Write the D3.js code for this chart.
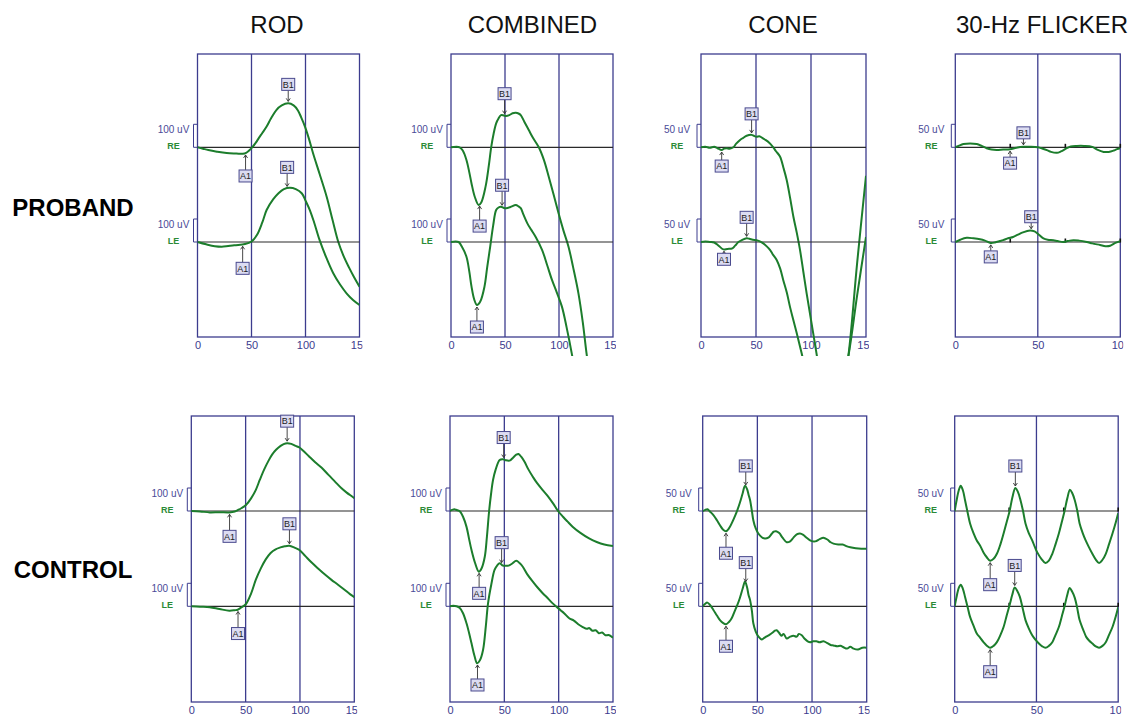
<!DOCTYPE html>
<html>
<head>
<meta charset="utf-8">
<script src="https://cdn.jsdelivr.net/npm/d3@7"></script>
<style>
  body { margin: 0; background: #fff; }
  svg { display: block; font-family: "Liberation Sans", Arial, sans-serif; }
</style>
</head>
<body>
<svg id="chart" width="1137" height="716"></svg>
<script>
// ---- ERG protocols and subjects ----
const protocols = ["ROD", "COMBINED", "CONE", "30-Hz FLICKER"];
const subjects = ["PROBAND", "CONTROL"];
const sweepMs = [150, 150, 150, 100];
const calibrationUV = [100, 100, 50, 50];
const xTickValues = [[0, 50, 100, 150], [0, 50, 100, 150], [0, 50, 100, 150], [0, 50, 100]];
const eyes = ["RE", "LE"];

// ---- Waveforms: [time ms, amplitude uV] ----
const probandRodRE = [[0,0],[5,-6],[10,-12],[18,-19],[27,-25],[36,-27],[42,-28],[45,-24],[48,-13],[51,2],[54,20],[57,42],[60,62],[64,90],[68,125],[73,162],[78,182],[84,191],[89,182],[93,160],[96,130],[99.5,90],[103,40],[107,-26],[113,-115],[119.6,-215],[125,-315],[130.4,-412],[135,-470],[140,-520],[145,-565],[150,-606]];
const probandRodLE = [[0,0],[8,-10],[16,-18],[24,-20],[34,-14],[44,-9],[50,2],[55,30],[60,85],[64,139],[70,185],[75,212],[80,230],[85.6,236],[91,230],[96.5,212],[100,180],[104,139],[108,85],[113,9],[119,-65],[125.7,-136],[132,-185],[138,-223],[144,-252],[150,-274]];
const probandCombRE = [[0,0],[8,0],[11,-15],[14.3,-55],[17,-110],[19,-157],[22,-215],[25.6,-251],[28,-240],[32,-171],[35,-80],[37.2,0],[39.5,60],[41.8,104],[44,125],[46.3,140],[49,138],[51,136],[54,140],[57,148],[60,150],[62.5,147],[64.6,140],[68,110],[72,75],[76,40],[81.3,0],[86,-55],[90.5,-128],[95,-205],[99.6,-287],[104,-360],[108.8,-432],[113,-520],[118,-635],[122,-760],[125.5,-896],[130,-1050]];
const probandCombLE = [[0,0],[7,0],[10,-20],[14.3,-64],[17,-130],[19,-194],[21.5,-250],[24,-274],[27,-260],[31,-194],[33.5,-110],[36.3,-20],[39,70],[41.8,139],[44,150],[46.3,153],[49,148],[51,147],[55,152],[60,161],[62.5,155],[64.6,147],[67,120],[70.7,81],[74,55],[78.3,23],[84.4,-35],[89,-100],[93.5,-165],[98,-220],[102.7,-281],[107,-370],[111.8,-484],[116,-600]];
const probandConeRE = [[0,0],[4,1],[8,-1],[12,1],[15,-2],[18.8,-6],[21,-3],[23.3,-2],[26,-3],[29.4,0],[32,8],[35.5,16],[38,20],[41.5,25],[46,27],[48,25],[50.5,23],[53,24],[56,20],[58,17],[62,10],[65.7,0],[68,-8],[71.8,-20],[75,-45],[77.9,-71],[81,-110],[84,-151],[87,-185],[90,-223],[93,-270],[96,-317],[100,-375],[105,-448],[110,-520],[116,-570],[122,-590],[128,-540],[134,-453],[142,-250],[150,-62]];
const probandConeLE = [[0,0],[4,1],[8,0],[12,-1],[16,-8],[20.3,-16],[24,-15],[28.5,-14],[31,-8],[34,0],[37,4],[41.5,8],[44,7],[47,5],[50.5,4],[53,2],[56.6,-3],[60,-10],[62.7,-17],[65,-26],[68.8,-39],[72,-58],[74.8,-83],[78,-110],[80.9,-141],[84,-170],[87,-198],[91.5,-242],[98,-310],[105,-370],[112,-400],[119,-390],[126,-340],[134,-248],[142,-115],[150,11]];
const probandFlickerRE = [[0,0],[2,3],[4.9,7],[9,8],[13,7],[16,3],[19,-2],[22,-5],[25,-6],[29,-5],[33.2,-4],[37,-1],[41.3,1],[45,1],[50,0],[53,-3],[55.5,-6],[58,-10],[61.6,-12],[64,-9],[67.6,-2],[70,2],[73.7,3],[78,3],[83,1],[86,-5],[89.9,-10],[93,-10],[96,-7],[98,-4],[100,-2]];
const probandFlickerLE = [[0,0],[3,5],[6.9,9],[11,8],[15,6],[18,3],[21.4,-2],[24,-1],[27,2],[29,4],[32,8],[35,11],[38,16],[41,21],[45.3,25],[48,23],[50,18],[53.4,8],[56,5],[59.5,4],[62,2],[65.5,0],[68,2],[71.6,4],[75,3],[79.7,0],[83,-3],[87.8,-6.5],[91,-9],[93.9,-8],[97,-2],[100,2]];

const controlRodRE = [[0,0],[8,-2],[17,-6],[26,-5],[35,-6],[40,-2],[42.7,4],[46,12],[50.3,26],[55,55],[59.4,92],[63,135],[67,180],[71,218],[74.5,246],[78,266],[82.2,283],[85,291],[88.2,295],[92,292],[96,283],[99.5,276],[103,262],[108,239],[114,212],[120,188],[126,158],[132,129],[138,100],[143,80],[148,63],[150,56]];
const controlRodLE = [[0,0],[8,-2],[17,-4],[26,-12],[35,-19],[40,-17],[42.7,-15],[46,-5],[50.3,10],[55,55],[59.4,116],[64,165],[68.5,204],[73,232],[77.6,248],[82,256],[86,261],[90.3,263],[95,255],[99.5,245],[105,218],[111,189],[117,163],[123,138],[129,115],[135,94],[141,72],[146,53],[150,40]];
const controlCombRE = [[0,0],[2,5],[4.6,7],[7,3],[9,-1],[12,-25],[15.2,-69],[17.5,-120],[19.8,-170],[23,-225],[26.5,-264],[29,-250],[32,-199],[34,-110],[36,0],[37.8,75],[39.6,135],[42,180],[45.7,222],[48.7,225],[51,221],[54.8,219],[58,232],[61,245],[63,248],[65.5,236],[68.6,214],[72,182],[76.2,149],[80,122],[85.3,91],[90,65],[95,32],[99.4,0],[104,-25],[108,-45],[112.8,-68],[120,-95],[128,-119],[135,-135],[142,-146],[150,-152]];
const controlCombLE = [[0,0],[3,2],[6,0],[9,-7],[12,-30],[15.2,-74],[17.5,-115],[19.8,-161],[22.5,-215],[25,-248],[27.5,-235],[30.4,-190],[33,-85],[35,13],[38,95],[41,158],[43.5,178],[45.7,187],[48.7,177],[51,176],[54,177],[57,185],[61,198],[64,188],[67,172],[71,140],[76.2,107],[80,85],[85.3,57],[90,35],[94,15],[97.5,0],[102,-18],[105,-30],[109.7,-52],[114,-62],[118,-78],[121.8,-89],[126,-98],[128,-94],[131,-106],[134,-104],[137,-117],[140,-114],[143,-126],[146,-125],[150,-137]];
const controlConeRE = [[0,0],[2,2],[4.3,4],[7,-2],[9.8,-9],[13,-20],[15.8,-31],[18.5,-40],[21.3,-44],[24,-38],[26.5,-27],[29,-14],[31.7,2],[34,18],[36.5,38],[38.7,55],[40.5,48],[42,35],[43.3,24],[45,0],[46.3,-20],[48.5,-38],[50.9,-49],[54,-57],[57,-60],[60,-58],[63,-50],[65,-45],[67.1,-44],[70,-48],[73,-58],[76.9,-68],[80,-66],[83,-58],[86,-51],[89,-49],[92,-52],[95,-58],[99.2,-65],[103,-66],[107,-61],[110.4,-58],[114,-62],[117,-68],[119.6,-71],[124,-73],[128,-73],[132,-77],[135,-79],[140,-81],[145,-82],[150,-82]];
const controlConeLE = [[0,0],[2,5],[4.3,8],[7,2],[9.8,-8],[13,-20],[15.8,-30],[18.5,-36],[21.3,-39],[24,-34],[26.5,-26],[29,-12],[31.7,3],[34,18],[36.5,38],[38.7,54],[40.5,42],[42,24],[43.3,14],[45,-10],[46.3,-37],[48.5,-55],[51,-66],[54,-72],[55.5,-70],[58,-66],[61,-62],[64,-57],[66,-53],[67.7,-52],[70,-58],[72,-64],[74,-60],[76.9,-70],[80,-66],[83,-64],[86,-66],[88,-60],[90.6,-63],[93,-70],[96,-76],[98.3,-78],[101,-76],[104,-76],[107,-78],[110.4,-76],[114,-80],[117,-84],[119.6,-85],[123,-87],[126,-86],[128.8,-89],[132,-92],[135,-88],[138,-92],[142,-94],[146,-90],[150,-90]];
const controlFlickerRE = [[0,0],[1,20],[2.5,45],[3.7,55],[5,45],[6.3,24],[8,-5],[9.4,-27],[11.5,-48],[13.5,-64],[15.5,-75],[17.6,-90],[19.5,-100],[21.7,-108],[23.8,-104],[25.8,-93],[28,-72],[29.9,-49],[31.8,-24],[33.6,0],[35.3,30],[37.1,50],[38.6,42],[40.2,24],[41.8,0],[43.3,-27],[45.3,-48],[47.4,-64],[49,-78],[50.5,-90],[53,-104],[55.5,-113],[57.6,-108],[59.7,-93],[61.7,-72],[63.7,-49],[65.5,-24],[67.2,0],[68.9,28],[70.5,46],[72,38],[73.4,24],[75,0],[76.4,-27],[78.3,-48],[80.1,-64],[82,-78],[84.2,-93],[86.2,-105],[88.3,-113],[90.4,-106],[92.4,-93],[94.4,-72],[96.5,-49],[98.5,-25],[100,-5]];
const controlFlickerLE = [[0,0],[1,18],[2.5,40],[3.7,47],[5,38],[6.3,21],[8,-3],[9.4,-23],[11.5,-42],[13.5,-59],[15.5,-68],[17.6,-78],[19.5,-85],[21.7,-90],[23.8,-86],[25.8,-78],[28,-62],[29.9,-45],[31.8,-20],[33.6,3],[35.2,25],[36.7,41],[38.2,34],[39.8,21],[41.5,-3],[43.3,-30],[45.3,-48],[47.4,-63],[49.5,-73],[51.5,-81],[53.5,-87],[55.5,-90],[57.6,-86],[59.7,-78],[61.7,-62],[63.7,-45],[65.5,-22],[67.2,0],[68.8,24],[70.3,40],[71.8,32],[73.4,19],[75,-5],[76.4,-30],[78.5,-50],[80.5,-67],[82.3,-75],[84.2,-81],[86.2,-87],[88.3,-90],[90.4,-86],[92.4,-78],[94.4,-62],[96.5,-45],[98.5,-22],[100,-2]];

// ---- Peak markers (ms): [A1, B1] for RE then LE ----
const probandMarkers = [
  [[44.5, 84], [41.8, 83]],
  [[26.5, 49.6], [24, 47.3]],
  [[18.8, 46], [20.9, 41.5]],
  [[33.2, 41.3], [21.5, 46]]
];
const controlMarkers = [
  [[35.2, 88.2], [43, 90.3]],
  [[26.8, 49.4], [25.3, 47.5]],
  [[21.3, 39.4], [21.3, 39.4]],
  [[21.7, 37.1], [21.7, 36.7]]
];
// Flicker stimulus ticks on the baseline (ms)
const flickerStimulusMs = [33.3, 66.7, 100];

const waveforms = {
  PROBAND: [[probandRodRE, probandRodLE], [probandCombRE, probandCombLE], [probandConeRE, probandConeLE], [probandFlickerRE, probandFlickerLE]],
  CONTROL: [[controlRodRE, controlRodLE], [controlCombRE, controlCombLE], [controlConeRE, controlConeLE], [controlFlickerRE, controlFlickerLE]]
};
const markers = { PROBAND: probandMarkers, CONTROL: controlMarkers };

// ---- Layout ----
const frameColor = "#3c3c8e";
const traceColor = "#1c7d2c";
const calPx = 23;
const layout = [
  { top: 54, bottom: 337, base: [147.3, 242], clipBottom: 356, lefts: [197.5, 451, 701, 955.3], widths: [162, 162, 165, 165], labelY: 216,
    gaps: [[[17, 13], [18, 15]], [[16, 16], [16, 16]], [[10, 15], [4, 15]], [[8, 8], [8, 8]]] },
  { top: 416, bottom: 702, base: [511, 606.3], clipBottom: 716, lefts: [191.3, 450, 702.7, 954.7], widths: [163, 163, 164, 163.5], labelY: 578,
    gaps: [[[18, 16], [18, 16]], [[16, 16], [16, 16]], [[16, 15], [16, 15]], [[18, 16], [18, 16]]] }
];
const titleX = [277, 532.5, 783, 1042];

const svg = d3.select("#chart");
const defs = svg.append("defs");
svg.append("rect").attr("width", 1137).attr("height", 716).attr("fill", "#fff");

protocols.forEach((p, c) => {
  svg.append("text").attr("x", titleX[c]).attr("y", 33).attr("text-anchor", "middle")
    .attr("font-size", 24).attr("fill", "#111").text(p);
});

function valueAt(data, t) {
  const i = d3.bisector(d => d[0]).left(data, t);
  if (i <= 0) return data[0][1];
  if (i >= data.length) return data[data.length - 1][1];
  const a = data[i - 1], b = data[i];
  return a[1] + (b[1] - a[1]) * (t - a[0]) / (b[0] - a[0]);
}

subjects.forEach((s, r) => {
  const L = layout[r];
  svg.append("text").attr("x", 73).attr("y", L.labelY).attr("text-anchor", "middle")
    .attr("font-size", 24).attr("font-weight", "bold").attr("fill", "#000").text(s);

  protocols.forEach((p, c) => {
    const x0 = L.lefts[c], w = L.widths[c];
    const x = d3.scaleLinear().domain([0, sweepMs[c]]).range([x0, x0 + w]);
    const g = svg.append("g");

    const clipId = `trace-clip-${r}-${c}`;
    defs.append("clipPath").attr("id", clipId).append("rect")
      .attr("x", x0).attr("y", L.top - 2).attr("width", w).attr("height", L.clipBottom - L.top + 2);
    const tickClip = `tick-clip-${r}-${c}`;
    defs.append("clipPath").attr("id", tickClip).append("rect")
      .attr("x", x0 - 12).attr("y", L.bottom).attr("width", w + 15).attr("height", 40);

    // Frame
    g.append("rect").attr("x", x0).attr("y", L.top).attr("width", w).attr("height", L.bottom - L.top)
      .attr("fill", "none").attr("stroke", frameColor).attr("stroke-width", 1.3);
    // Interior time gridlines
    g.selectAll("line.grid").data(xTickValues[c].filter(v => v > 0 && v < sweepMs[c])).join("line")
      .attr("class", "grid").attr("x1", d => x(d)).attr("x2", d => x(d))
      .attr("y1", L.top).attr("y2", L.bottom).attr("stroke", frameColor).attr("stroke-width", 1.3);

    // Time axis labels (last label clipped at the panel edge)
    const axis = d3.axisBottom(x).tickValues(xTickValues[c]).tickSize(0).tickPadding(4).tickFormat(d3.format("d"));
    const ag = g.append("g").attr("clip-path", `url(#${tickClip})`)
      .append("g").attr("transform", `translate(0,${L.bottom})`).call(axis);
    ag.select(".domain").remove();
    ag.selectAll("text").attr("font-size", 11).attr("fill", frameColor)
      .attr("font-family", "Liberation Sans, Arial, sans-serif");

    eyes.forEach((eye, e) => {
      const base = L.base[e];
      const y = d3.scaleLinear().domain([0, calibrationUV[c]]).range([base, base - calPx]);
      const data = waveforms[s][c][e];

      // Baseline
      g.append("line").attr("x1", x0).attr("x2", x0 + w).attr("y1", base).attr("y2", base)
        .attr("stroke", "#2a2a2a").attr("stroke-width", 1.2);

      // Flicker stimulus ticks
      if (c === 3) {
        g.selectAll(null).data(flickerStimulusMs).join("line")
          .attr("x1", d => x(d)).attr("x2", d => x(d)).attr("y1", base - 3.5).attr("y2", base + 0.5)
          .attr("stroke", "#111").attr("stroke-width", 1.6);
      }

      // Calibration bracket and labels
      g.append("path")
        .attr("d", `M${x0},${y(calibrationUV[c])} h-4 V${base} h4`)
        .attr("fill", "none").attr("stroke", frameColor).attr("stroke-width", 1);
      g.append("text").attr("x", x0 - 24).attr("y", base - 14).attr("text-anchor", "middle")
        .attr("font-size", 10).attr("fill", "#4a4a98").text(`${calibrationUV[c]} uV`);
      g.append("text").attr("x", x0 - 24).attr("y", base + 2).attr("text-anchor", "middle")
        .attr("font-size", 9).attr("font-weight", "bold").attr("fill", "#2a8a36").text(eye);

      // Waveform
      const line = d3.line().x(d => x(d[0])).y(d => y(d[1])).curve(d3.curveCatmullRom.alpha(0.5));
      g.append("path").datum(data).attr("clip-path", `url(#${clipId})`)
        .attr("d", line).attr("fill", "none").attr("stroke", traceColor)
        .attr("stroke-width", 2).attr("stroke-linejoin", "round");

      // A1 / B1 markers
      const [tA, tB] = markers[s][c][e];
      const gaps = L.gaps[c][e];
      [["A1", tA, 1, gaps[0]], ["B1", tB, -1, gaps[1]]].forEach(([name, t, dir, gap]) => {
        const mx = x(t), my = y(valueAt(data, t));
        const tip = my + dir * 2;
        const boxEdge = my + dir * gap;
        const bw = 13, bh = 12;
        const by = dir > 0 ? boxEdge : boxEdge - bh;
        g.append("line").attr("x1", mx).attr("x2", mx).attr("y1", boxEdge).attr("y2", tip)
          .attr("stroke", "#333").attr("stroke-width", 0.9);
        g.append("path")
          .attr("d", `M${mx - 2},${tip + dir * 3} L${mx},${tip} L${mx + 2},${tip + dir * 3}`)
          .attr("fill", "none").attr("stroke", "#333").attr("stroke-width", 0.9);
        g.append("rect").attr("x", mx - bw / 2).attr("y", by).attr("width", bw).attr("height", bh)
          .attr("fill", "#dcdcf2").attr("stroke", "#4a4a8e").attr("stroke-width", 1);
        g.append("text").attr("x", mx).attr("y", by + bh / 2 + 3.3).attr("text-anchor", "middle")
          .attr("font-size", 9).attr("fill", "#222").text(name);
      });
    });
  });
});
</script>
</body>
</html>
